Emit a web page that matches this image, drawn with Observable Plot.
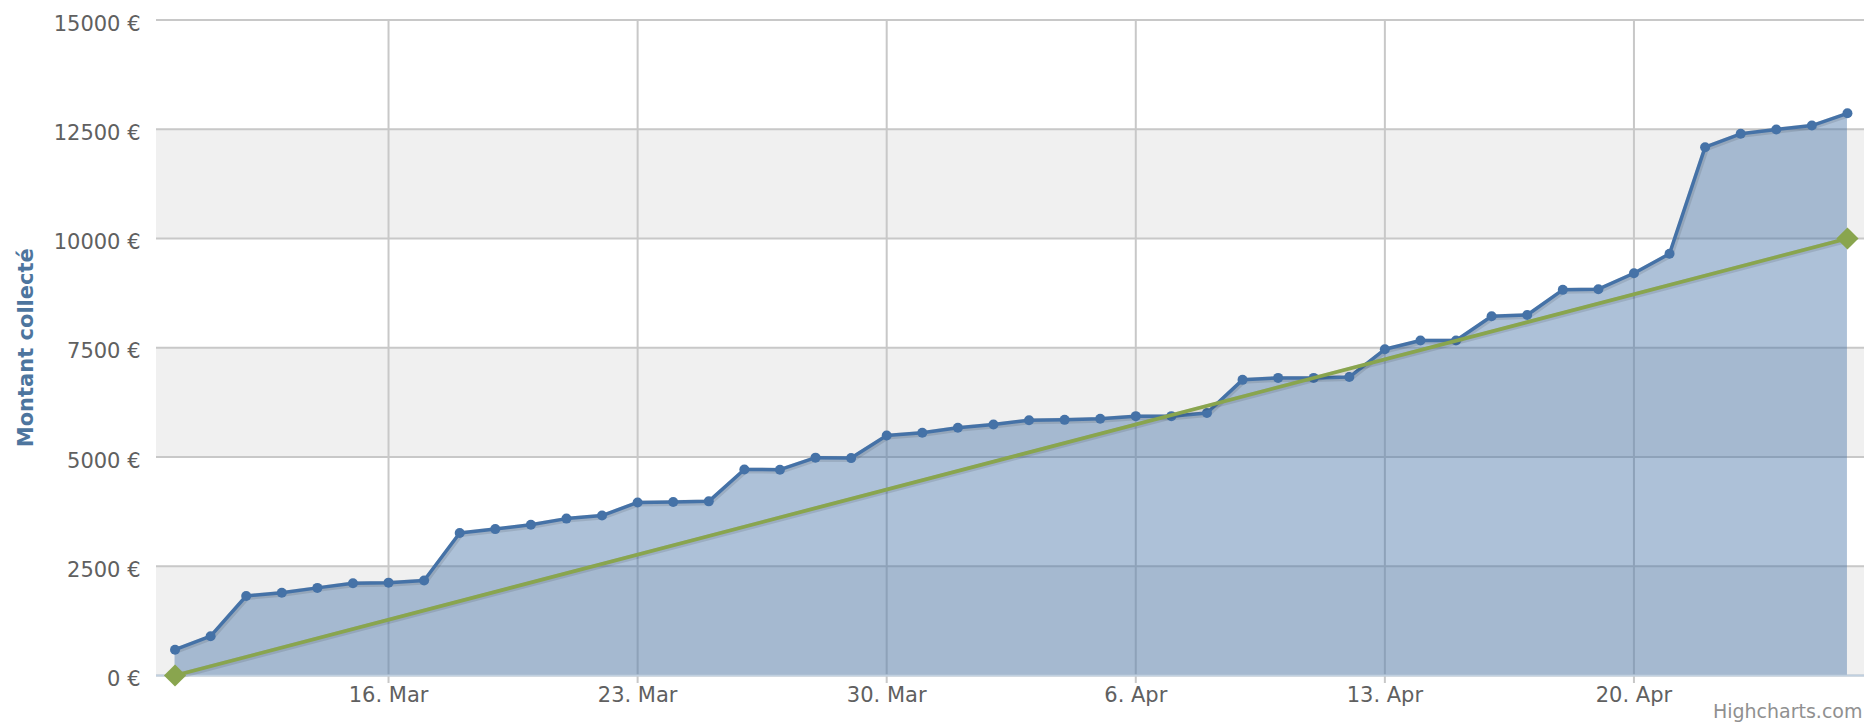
<!DOCTYPE html>
<html>
<head>
<meta charset="utf-8">
<script src="https://cdn.jsdelivr.net/npm/d3@7"></script>
<script src="https://cdn.jsdelivr.net/npm/@observablehq/plot@0.6"></script>
<style>
  html, body { margin: 0; padding: 0; background: #fff; }
  #chart { width: 1866px; height: 727px; }
</style>
</head>
<body>
<div id="chart"></div>
<script>
// ---- data ----
const dates = [
  "2015-03-10","2015-03-11","2015-03-12","2015-03-13","2015-03-14","2015-03-15","2015-03-16","2015-03-17",
  "2015-03-18","2015-03-19","2015-03-20","2015-03-21","2015-03-22","2015-03-23","2015-03-24","2015-03-25",
  "2015-03-26","2015-03-27","2015-03-28","2015-03-29","2015-03-30","2015-03-31","2015-04-01","2015-04-02",
  "2015-04-03","2015-04-04","2015-04-05","2015-04-06","2015-04-07","2015-04-08","2015-04-09","2015-04-10",
  "2015-04-11","2015-04-12","2015-04-13","2015-04-14","2015-04-15","2015-04-16","2015-04-17","2015-04-18",
  "2015-04-19","2015-04-20","2015-04-21","2015-04-22","2015-04-23","2015-04-24","2015-04-25","2015-04-26"
];
const collected = [
  590, 900, 1820, 1895, 2005, 2110, 2125, 2175,
  3260, 3350, 3450, 3590, 3660, 3960, 3970, 3985,
  4715, 4710, 4985, 4975, 5490, 5555, 5670, 5745,
  5840, 5850, 5875, 5935, 5935, 6005, 6765, 6810,
  6810, 6830, 7465, 7665, 7665, 8220, 8250, 8825,
  8840, 9205, 9650, 12090, 12395, 12495, 12585, 12865
];
const targetDates = ["2015-03-10", "2015-04-26"];
const targetValues = [0, 10000];

const xTickDates = ["2015-03-16","2015-03-23","2015-03-30","2015-04-06","2015-04-13","2015-04-20"];
const xTickLabels = ["16. Mar","23. Mar","30. Mar","6. Apr","13. Apr","20. Apr"];
const yTicks = [0, 2500, 5000, 7500, 10000, 12500, 15000];
const yTickLabels = ["0 €","2500 €","5000 €","7500 €","10000 €","12500 €","15000 €"];
const xDomain = ["2015-03-09T11:30Z", "2015-04-26T11:30Z"];
const yTitle = "Montant collecté";
const credit = "Highcharts.com";

// ---- build tables ----
const parse = s => new Date(s.length === 10 ? s + "T00:00Z" : s);
const series = dates.map((d, i) => ({date: parse(d), value: collected[i]}));
const target = targetDates.map((d, i) => ({date: parse(d), value: targetValues[i]}));
const xTicks = xTickDates.map(parse);
const xLabelByTime = new Map(xTicks.map((d, i) => [+d, xTickLabels[i]]));
const yLabelByValue = new Map(yTicks.map((v, i) => [v, yTickLabels[i]]));
const bands = [];
for (let i = 0; i + 1 < yTicks.length; i += 2) bands.push({y1: yTicks[i], y2: yTicks[i + 1]});

const blue = "#4572A7";
const green = "#89A54E";
const grid = "#c8c8c8";
const labelColor = "#606060";

const chart = Plot.plot({
  width: 1866,
  height: 727,
  marginTop: 19.5,
  marginBottom: 52,
  marginLeft: 156,
  marginRight: 2,
  style: {fontFamily: "'DejaVu Sans', sans-serif", background: "#fff", overflow: "visible"},
  x: {type: "utc", domain: xDomain.map(parse)},
  y: {domain: [0, 15000]},
  marks: [
    Plot.rect(bands, {y1: "y1", y2: "y2", fill: "#f0f0f0"}),
    Plot.ruleY(yTicks, {stroke: grid, strokeWidth: 2}),
    Plot.ruleX(xTicks, {stroke: grid, strokeWidth: 2, insetBottom: -8}),
    Plot.areaY(series, {x: "date", y: "value", fill: blue, fillOpacity: 0.44}),
    Plot.ruleY([0], {stroke: "#C0D0E0", strokeWidth: 2}),
    // subtle shadows like Highcharts
    Plot.lineY(series, {x: "date", y: "value", stroke: "#000", strokeOpacity: 0.1, strokeWidth: 6, dx: 1, dy: 1}),
    Plot.lineY(series, {x: "date", y: "value", stroke: blue, strokeWidth: 3.5}),
    Plot.dot(series, {x: "date", y: "value", r: 5, fill: blue}),
    Plot.lineY(target, {x: "date", y: "value", stroke: "#000", strokeOpacity: 0.1, strokeWidth: 6, dx: 1, dy: 1}),
    Plot.lineY(target, {x: "date", y: "value", stroke: green, strokeWidth: 3.8}),
    Plot.dot(target, {x: "date", y: "value", r: 10, symbol: "diamond2", fill: green}),
    Plot.axisY({ticks: yTicks, tickSize: 0, tickPadding: 16, tickFormat: v => yLabelByValue.get(v), fontSize: 21, color: labelColor, dy: 4}),
    Plot.axisX({ticks: xTicks, tickSize: 0, tickPadding: 12, tickFormat: d => xLabelByTime.get(+d), fontSize: 21, color: labelColor}),
    Plot.text([yTitle], {frameAnchor: "left", dx: -130, rotate: -90, fontSize: 21, fontWeight: "bold", fill: "#4D759E", textAnchor: "middle"}),
    Plot.text([credit], {frameAnchor: "bottom-right", dx: -2, dy: 42, fontSize: 19, fill: "#909090", textAnchor: "end"})
  ]
});
document.getElementById("chart").appendChild(chart);
</script>
</body>
</html>
